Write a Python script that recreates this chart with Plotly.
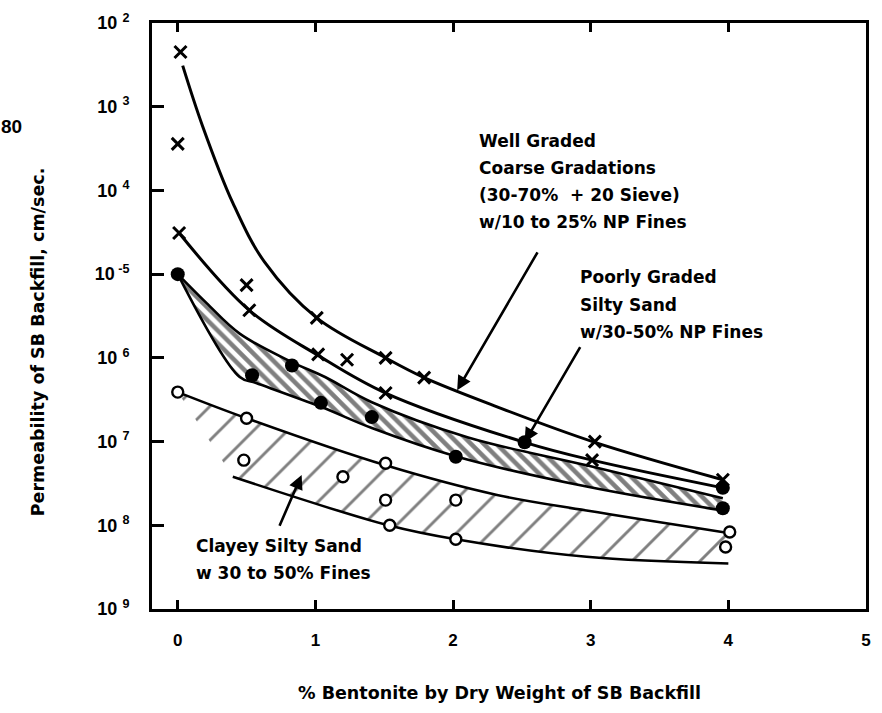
import numpy as np
import plotly.graph_objects as go

# ---------------- data (permeability in cm/sec vs % bentonite) ----------------
# Well graded coarse gradations (30-70% +20 sieve) w/10 to 25% NP fines
wg_pct = [0.02, 0.00, 0.01, 0.50, 0.52, 1.01, 1.02, 1.23, 1.51, 1.51, 1.79, 3.03, 3.01, 3.96]
wg_k = [4.5e-3, 3.6e-4, 3.1e-5, 7.4e-6, 3.7e-6, 3.0e-6, 1.1e-6, 9.5e-7, 1.0e-6, 3.8e-7, 5.8e-7,
        1.0e-7, 6.0e-8, 3.5e-8]
wg_upper_pct = [0.036, 0.18, 0.40, 0.63, 1.01, 1.51, 1.79, 2.32, 3.03, 3.96]
wg_upper_k = [3.1e-3, 5.9e-4, 7.1e-5, 1.4e-5, 3.0e-6, 1.0e-6, 5.8e-7, 2.6e-7, 9.8e-8, 3.5e-8]
wg_lower_pct = [0.01, 0.52, 1.02, 1.51, 2.52, 3.01, 3.96]
wg_lower_k = [3.1e-5, 3.7e-6, 1.07e-6, 3.8e-7, 9.8e-8, 6.0e-8, 2.8e-8]

# Poorly graded silty sand w/30-50% NP fines
pg_pct = [0.00, 0.54, 0.83, 1.04, 1.41, 2.02, 2.52, 3.96, 3.96]
pg_k = [1.0e-5, 6.2e-7, 8.1e-7, 2.9e-7, 1.96e-7, 6.6e-8, 9.8e-8, 2.8e-8, 1.6e-8]
pg_top_pct = [0.00, 0.21, 0.45, 0.83, 1.07, 1.41, 2.11, 2.97, 3.96]
pg_top_k = [1.0e-5, 4.5e-6, 1.95e-6, 8.9e-7, 5.9e-7, 2.95e-7, 1.12e-7, 5.2e-8, 2.1e-8]
pg_bot_pct = [0.00, 0.45, 0.57, 1.04, 1.41, 2.03, 2.97, 3.96]
pg_bot_k = [1.0e-5, 5.9e-7, 5.0e-7, 2.6e-7, 1.45e-7, 6.6e-8, 2.9e-8, 1.5e-8]

# Clayey silty sand w 30 to 50% fines
cs_pct = [0.00, 0.50, 0.48, 1.20, 1.51, 1.51, 1.54, 2.02, 2.02, 4.01, 3.98]
cs_k = [3.9e-7, 1.9e-7, 6.0e-8, 3.8e-8, 5.5e-8, 2.0e-8, 1.0e-8, 2.0e-8, 6.8e-9, 8.3e-9, 5.5e-9]
cs_top_pct = [0.00, 0.50, 1.51, 2.32, 2.97, 4.00]
cs_top_k = [3.9e-7, 1.9e-7, 5.2e-8, 2.3e-8, 1.5e-8, 8.1e-9]
cs_bot_pct = [0.40, 1.53, 2.02, 2.97, 4.00]
cs_bot_k = [3.8e-8, 1.0e-8, 6.8e-9, 4.2e-9, 3.5e-9]

x_ticks = [0, 1, 2, 3, 4, 5]
y_ticks = [1e-2, 1e-3, 1e-4, 1e-5, 1e-6, 1e-7, 1e-8, 1e-9]
y_ticktext = ["10 <sup>2</sup>", "10 <sup>3</sup>", "10 <sup>4</sup>", "10<sup> -5</sup>",
              "10 <sup>6</sup>", "10 <sup>7</sup>", "10 <sup>8</sup>", "10 <sup>9</sup>"]

TICK_FONT = "Liberation Sans"
TEXT_FONT = "DejaVu Sans"
INK = "black"
LW = 2.6

fig = go.Figure()

# hatched band: clayey silty sand
fig.add_trace(go.Scatter(x=cs_bot_pct, y=cs_bot_k, mode="lines",
                         line=dict(color=INK, width=LW, shape="spline"), hoverinfo="skip"))
fig.add_trace(go.Scatter(x=cs_top_pct, y=cs_top_k, mode="lines", fill="tonexty",
                         fillcolor="rgba(0,0,0,0)",
                         fillpattern=dict(shape="/", size=24, solidity=0.12, fgcolor=INK,
                                          bgcolor="rgba(0,0,0,0)"),
                         line=dict(color=INK, width=LW, shape="spline"), hoverinfo="skip"))

# hatched band: poorly graded silty sand
fig.add_trace(go.Scatter(x=pg_bot_pct, y=pg_bot_k, mode="lines",
                         line=dict(color=INK, width=LW, shape="spline"), hoverinfo="skip"))
fig.add_trace(go.Scatter(x=pg_top_pct, y=pg_top_k, mode="lines", fill="tonexty",
                         fillcolor="rgba(0,0,0,0)",
                         fillpattern=dict(shape="\\", size=9, solidity=0.5, fgcolor=INK,
                                          bgcolor="rgba(0,0,0,0)"),
                         line=dict(color=INK, width=LW, shape="spline"), hoverinfo="skip"))

# well graded envelope curves
for xs, ys in ((wg_upper_pct, wg_upper_k), (wg_lower_pct, wg_lower_k)):
    fig.add_trace(go.Scatter(x=xs, y=ys, mode="lines",
                             line=dict(color=INK, width=LW + 0.4, shape="spline", smoothing=1.0),
                             hoverinfo="skip"))

# measured points
fig.add_trace(go.Scatter(x=wg_pct, y=wg_k, mode="markers",
                         marker=dict(symbol="x-thin", size=12, line=dict(color=INK, width=3))))
fig.add_trace(go.Scatter(x=pg_pct, y=pg_k, mode="markers",
                         marker=dict(symbol="circle", size=14, color=INK)))
fig.add_trace(go.Scatter(x=cs_pct, y=cs_k, mode="markers",
                         marker=dict(symbol="circle", size=11, color="white",
                                     line=dict(color=INK, width=2.4))))

# pixel helpers for free text placement
L, R, T, B = 152, 871, 22, 609
def px(xp):
    return (xp - L) / (R - L)
def py(yp):
    return (B - yp) / (B - T)

def text(s, xp, yp, size=17, xanchor="left", family=TEXT_FONT, **kw):
    fig.add_annotation(text=s, x=px(xp), y=py(yp), xref="paper", yref="paper",
                       showarrow=False, xanchor=xanchor, yanchor="middle",
                       font=dict(family=family, size=size, color=INK, weight="bold"), **kw)

for i, s in enumerate(["Well Graded", "Coarse Gradations", "(30-70%  + 20 Sieve)",
                       "w/10 to 25% NP Fines"]):
    text(s, 479, 140 + 27 * i)
for i, s in enumerate(["Poorly Graded", "Silty Sand", "w/30-50% NP Fines"]):
    text(s, 581, 276 + 28 * i)
for i, s in enumerate(["Clayey Silty Sand", "w 30 to 50% Fines"]):
    text(s, 194, 546 + 27 * i)

# leader arrows
def arrow(x_tip, k_tip, x_tail, k_tail, head=2):
    fig.add_annotation(x=x_tip, y=np.log10(k_tip), ax=x_tail, ay=np.log10(k_tail),
                       xref="x", yref="y", axref="x", ayref="y", text="", showarrow=True,
                       arrowhead=head, arrowsize=1.1, arrowwidth=2.6, arrowcolor=INK)

arrow(2.03, 4.1e-7, 2.62, 1.9e-5)
arrow(2.52, 9.8e-8, 2.93, 1.4e-6)
arrow(0.90, 4.0e-8, 0.735, 9.5e-9)

# axis titles and margin mark
text("Permeability of SB Backfill, cm/sec.", 38, 341, size=17.5, xanchor="center",
     textangle=-90)
text("% Bentonite by Dry Weight of SB Backfill", 502, 693, size=17.5, xanchor="center")
text("80", 11, 126, size=19, xanchor="center", family=TICK_FONT)

fig.update_xaxes(range=[-0.187, 5.0], tickvals=x_ticks, ticks="inside", ticklen=9,
                 tickwidth=3, tickcolor=INK, showline=True, linecolor=INK, linewidth=3,
                 mirror="ticks", showgrid=False, zeroline=False, ticklabelstandoff=14,
                 tickfont=dict(family=TICK_FONT, size=17, color=INK, weight="bold"))
fig.update_yaxes(type="log", range=[-9, -2], tickvals=y_ticks, ticktext=y_ticktext,
                 ticks="inside", ticklen=12, tickwidth=3, tickcolor=INK, showline=True,
                 linecolor=INK, linewidth=3, mirror=True, showgrid=False, zeroline=False,
                 ticklabelstandoff=16,
                 tickfont=dict(family=TICK_FONT, size=18, color=INK, weight="bold"))

fig.update_layout(width=882, height=713, showlegend=False,
                  margin=dict(l=L, r=882 - R, t=T, b=713 - B),
                  paper_bgcolor="white", plot_bgcolor="white")

fig.write_html("out.html")
